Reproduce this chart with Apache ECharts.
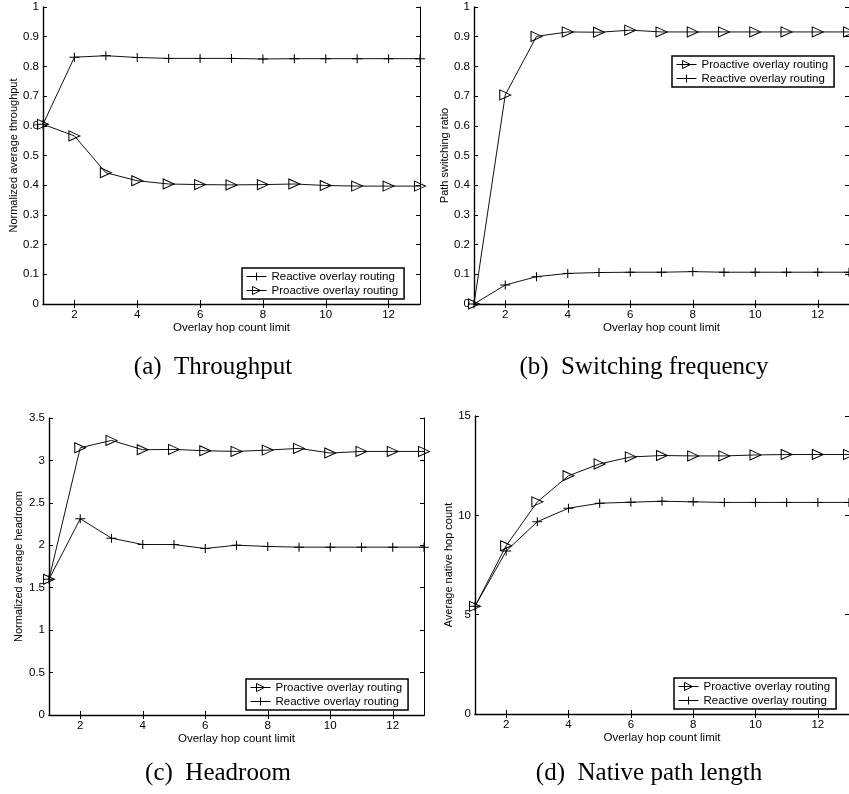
<!DOCTYPE html>
<html>
<head>
<meta charset="utf-8">
<script src="https://cdn.jsdelivr.net/npm/echarts@6/dist/echarts.min.js"></script>
<style>
html,body{margin:0;padding:0;background:#fff;}
#chart{width:849px;height:794px;}
</style>
</head>
<body>
<div id="chart"></div>
<script>
// ---- data ----
const hops = [1,2,3,4,5,6,7,8,9,10,11,12,13];
const xTicks = [2,4,6,8,10,12];
const seriesNames = ['Reactive overlay routing', 'Proactive overlay routing'];

const thrReactive  = [0.605,0.831,0.836,0.830,0.827,0.827,0.827,0.825,0.826,0.826,0.826,0.826,0.826];
const thrProactive = [0.605,0.566,0.442,0.415,0.404,0.402,0.401,0.402,0.404,0.399,0.397,0.397,0.397];

const swProactive = [0,0.704,0.901,0.916,0.915,0.922,0.916,0.916,0.916,0.916,0.916,0.916,0.916];
const swReactive  = [0,0.064,0.092,0.103,0.106,0.107,0.107,0.109,0.107,0.107,0.107,0.107,0.107];

const hrProactive = [1.60,3.150,3.236,3.126,3.130,3.114,3.106,3.122,3.142,3.087,3.106,3.106,3.106];
const hrReactive  = [1.60,2.312,2.084,2.009,2.009,1.962,2.001,1.986,1.978,1.978,1.978,1.978,1.978];

const nhProactive = [5.42,8.47,10.68,11.99,12.59,12.94,13.01,12.99,12.99,13.04,13.06,13.06,13.06];
const nhReactive  = [5.42,8.20,9.68,10.36,10.61,10.66,10.71,10.68,10.65,10.65,10.65,10.65,10.65];

const xAxisName = 'Overlay hop count limit';
const yAxisNames = ['Normalized average throughput','Path switching ratio','Normalized average headroom','Average native hop count'];
const captions = ['(a)  Throughput','(b)  Switching frequency','(c)  Headroom','(d)  Native path length'];
const yRanges = [[0,1,0.1],[0,1,0.1],[0,3.5,0.5],[0,15,5]];

// ---- layout / styles ----
const grids = [
  {left:43, top:7, width:377, height:297},
  {left:474, top:7, width:375, height:297},
  {left:49, top:418, width:375, height:297},
  {left:475, top:416, width:374, height:298}
];
const yNameGaps = [22, 22, 25, 19];
const legendPos = [
  {left:242, top:268, order:[0,1]},
  {left:672, top:56, order:[1,0]},
  {left:246, top:679, order:[1,0]},
  {left:674, top:678, order:[1,0]}
];
const captionPos = [[213,367],[644,367],[218,773],[649,773]];

const FONT = 'Liberation Sans, Arial, sans-serif';
const plusSym = 'path://M5,0L5,10M0,5L10,5';
const triSym = 'path://M0,0L10,5L0,10Z';

const panelData = [
  [thrReactive, thrProactive],
  [swReactive, swProactive],
  [hrReactive, hrProactive],
  [nhReactive, nhProactive]
];

const xAxes = [], yAxes = [], series = [], legends = [], graphics = [];
grids.forEach((g, i) => {
  const lineMain = {show:true, lineStyle:{color:'#000', width:1.4}};
  const lineOther = {show:true, lineStyle:{color:'#000', width:1}};
  xAxes.push({
    type:'value', gridIndex:i, min:1, max:13, position:'bottom',
    axisLine:lineMain,
    axisTick:{show:true, inside:true, length:4, customValues:xTicks, lineStyle:{color:'#000'}},
    axisLabel:{show:true, customValues:xTicks, color:'#000', fontSize:11.5, fontFamily:FONT, margin:5},
    splitLine:{show:false},
    name:xAxisName, nameLocation:'middle', nameGap:18,
    nameTextStyle:{color:'#000', fontSize:11.5, fontFamily:FONT}
  });
  xAxes.push({
    type:'value', gridIndex:i, min:1, max:13, position:'top',
    axisLine:lineOther,
    axisTick:{show:true, inside:true, length:4, customValues:xTicks, lineStyle:{color:'#000'}},
    axisLabel:{show:false}, splitLine:{show:false}
  });
  const r = yRanges[i];
  yAxes.push({
    type:'value', gridIndex:i, min:r[0], max:r[1], interval:r[2], position:'left',
    axisLine:lineMain,
    axisTick:{show:true, inside:true, length:4, lineStyle:{color:'#000'}},
    axisLabel:{color:'#000', fontSize:11.5, fontFamily:FONT, margin:4},
    splitLine:{show:false},
    name:yAxisNames[i], nameLocation:'middle', nameGap:yNameGaps[i],
    nameTextStyle:{color:'#000', fontSize:11, fontFamily:FONT}
  });
  yAxes.push({
    type:'value', gridIndex:i, min:r[0], max:r[1], interval:r[2], position:'right',
    axisLine:lineOther,
    axisTick:{show:true, inside:true, length:4, lineStyle:{color:'#000'}},
    axisLabel:{show:false}, splitLine:{show:false}
  });
  const [reac, proa] = panelData[i];
  series.push({
    name:seriesNames[0], type:'line', xAxisIndex:2*i, yAxisIndex:2*i,
    data:hops.map((h,k)=>[h, reac[k]]),
    symbol:plusSym, symbolSize:[10,9], showSymbol:true,
    lineStyle:{color:'#111', width:1},
    itemStyle:{color:'transparent', borderColor:'#000', borderWidth:1},
    emphasis:{disabled:true}, clip:false
  });
  series.push({
    name:seriesNames[1], type:'line', xAxisIndex:2*i, yAxisIndex:2*i,
    data:hops.map((h,k)=>[h, proa[k]]),
    symbol:triSym, symbolSize:[11,10], showSymbol:true,
    lineStyle:{color:'#111', width:1},
    itemStyle:{color:'transparent', borderColor:'#000', borderWidth:1},
    emphasis:{disabled:true}, clip:false
  });
  const lp = legendPos[i];
  legends.push({
    left:lp.left, top:lp.top, orient:'vertical',
    data:lp.order.map(k=>seriesNames[k]),
    itemWidth:20, itemHeight:10, itemGap:1,
    padding:[2,6,2,4],
    borderColor:'#000', borderWidth:1.5, borderRadius:0,
    backgroundColor:'#fff',
    selectedMode:false,
    lineStyle:{width:1, color:'#000'},
    itemStyle:{color:'transparent', borderColor:'#000', borderWidth:1},
    textStyle:{color:'#000', fontSize:11.5, fontFamily:FONT, lineHeight:13}
  });
  graphics.push({
    type:'text', x:captionPos[i][0], y:captionPos[i][1],
    style:{text:captions[i], font:'25px "Liberation Serif", "Times New Roman", serif',
      fill:'#000', textAlign:'center', textVerticalAlign:'middle'}
  });
});

const chart = echarts.init(document.getElementById('chart'), null, {renderer:'canvas'});
chart.setOption({
  animation:false,
  backgroundColor:'#fff',
  grid:grids,
  xAxis:xAxes,
  yAxis:yAxes,
  series:series,
  legend:legends,
  graphic:graphics
});
</script>
</body>
</html>
